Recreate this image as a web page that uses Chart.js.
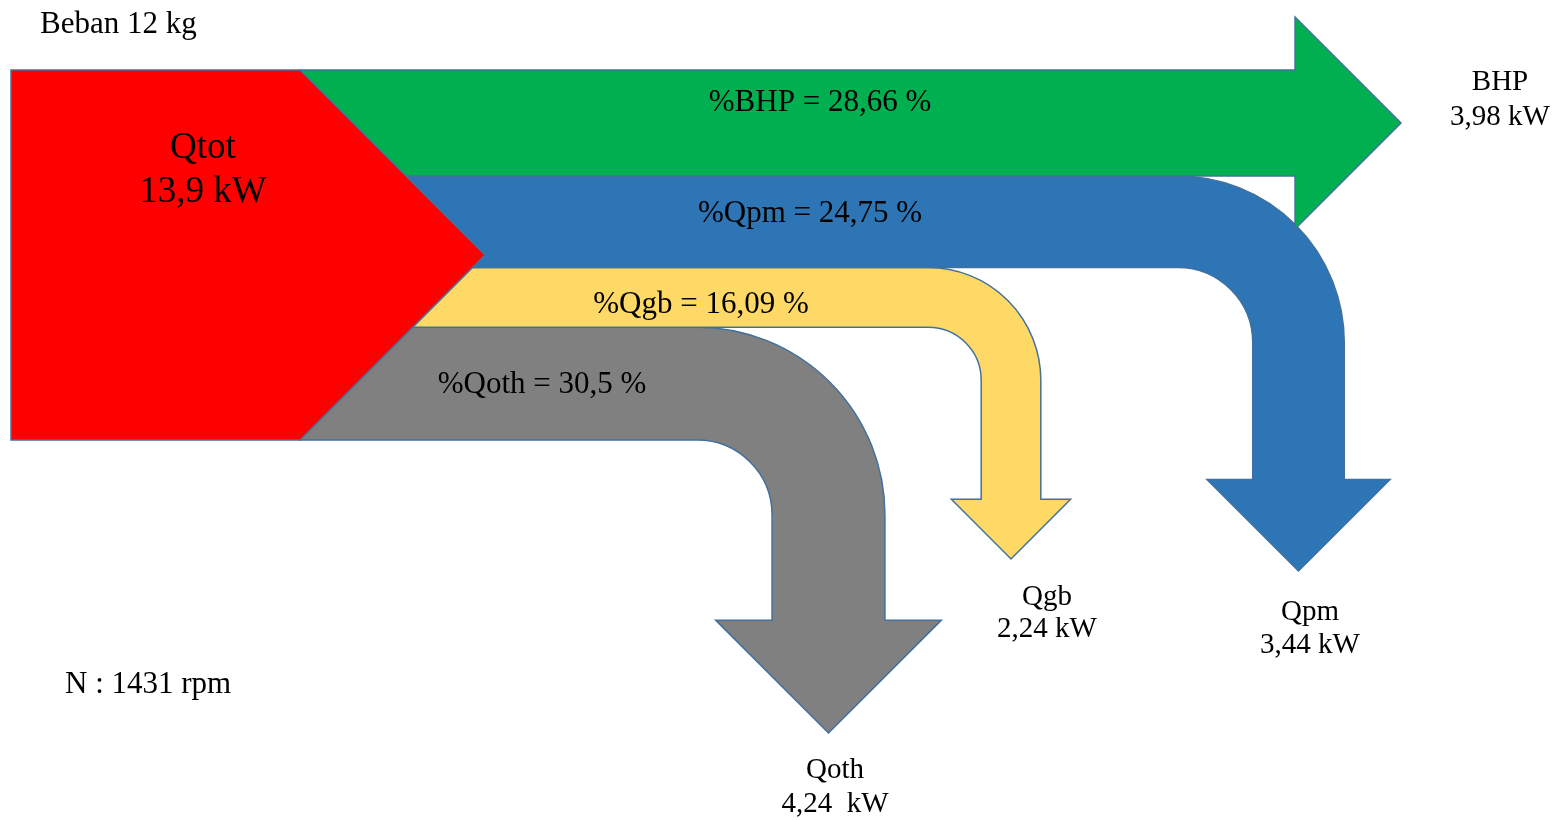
<!DOCTYPE html>
<html>
<head>
<meta charset="utf-8">
<title>Sankey Beban 12 kg</title>
<script src="https://cdn.jsdelivr.net/npm/chart.js@4.4.1/dist/chart.umd.min.js"></script>
<style>
  html, body { margin: 0; padding: 0; background: #ffffff; }
  #wrap { position: relative; width: 1557px; height: 820px; }
</style>
</head>
<body>
<div id="wrap"><canvas id="c"></canvas></div>
<script>
// ---------------- DATA ----------------
const sourceName = 'Qtot';
const totalKW = 13.9;
const categories = ['BHP', 'Qpm', 'Qgb', 'Qoth'];
const flowKW = [3.98, 3.44, 2.24, 4.24];
const flowPct = [28.66, 24.75, 16.09, 30.5];
const loadLabel = 'Beban 12 kg';
const speedLabel = 'N : 1431 rpm';

// ---------------- LAYOUT (positions / sizes, in axis units) ----------------
const blockBox = { left: 11, neck: 300, top: 70, bottom: 440 };
const bhpTipX = 1401;
const downCenterX = { Qpm: 1298.5, Qgb: 1011, Qoth: 828.5 };
const downInnerR = { Qpm: 75, Qgb: 53, Qoth: 75 };
const downTipY = { Qpm: 571, Qgb: 559, Qoth: 733 };
const bandLabelPos = { BHP: [820, 111], Qpm: [810, 222], Qgb: [701, 313], Qoth: [542, 393] };
const endLabelPos = { BHP: [1500, 90, 125], Qpm: [1310, 620, 653], Qgb: [1047, 605, 637], Qoth: [835, 778, 812] };
const endUnitGap = { BHP: ' ', Qpm: ' ', Qgb: ' ', Qoth: '  ' };
const sourceLabelPos = [203, 158, 202];
const loadLabelPos = [40, 33];
const speedLabelPos = [65, 693];

// ---------------- STYLE ----------------
const flowColors = { BHP: '#00B050', Qpm: '#2E75B6', Qgb: '#FFD966', Qoth: '#808080' };
const sourceColor = '#FF0000';
const outlineColor = '#41719C';
const fontFamily = '"Liberation Serif", "Times New Roman", serif';

const fmt = v => String(v).replace('.', ',');

const flowPlugin = {
  id: 'flowPlugin',
  afterDatasetsDraw(chart) {
    const ctx = chart.ctx;
    const sx = chart.scales.x, sy = chart.scales.y;
    const X = v => sx.getPixelForValue(v);
    const Y = v => sy.getPixelForValue(v);
    const LX = d => Math.abs(sx.getPixelForValue(d) - sx.getPixelForValue(0));
    const LY = d => Math.abs(sy.getPixelForValue(d) - sy.getPixelForValue(0));

    // band thickness in axis units, proportional to each flow's share of the total
    const span = blockBox.bottom - blockBox.top;
    const bands = {};
    let acc = blockBox.top;
    categories.forEach((c, i) => {
      const w = flowKW[i] / totalKW * span;
      bands[c] = { y0: acc, y1: acc + w, w: w, i: i };
      acc += w;
    });

    ctx.save();
    ctx.lineWidth = 1.5;
    ctx.lineJoin = 'miter';
    ctx.strokeStyle = outlineColor;

    const finish = (color) => {
      ctx.closePath();
      ctx.fillStyle = color;
      ctx.fill();
      ctx.stroke();
    };

    // downward bent flows
    ['Qoth', 'Qgb', 'Qpm'].forEach(c => {
      const b = bands[c];
      const w = b.w, r = downInnerR[c], cx = downCenterX[c];
      const L = cx - w / 2, R = cx + w / 2;
      const ccx = L - r, ccy = b.y1 + r;
      const headTop = downTipY[c] - w;
      ctx.beginPath();
      ctx.moveTo(X(blockBox.neck), Y(b.y0));
      ctx.lineTo(X(ccx), Y(b.y0));
      ctx.arc(X(ccx), Y(ccy), LX(r + w), -Math.PI / 2, 0, false);
      ctx.lineTo(X(R), Y(headTop));
      ctx.lineTo(X(cx + w), Y(headTop));
      ctx.lineTo(X(cx), Y(downTipY[c]));
      ctx.lineTo(X(cx - w), Y(headTop));
      ctx.lineTo(X(L), Y(headTop));
      ctx.lineTo(X(L), Y(ccy));
      ctx.arc(X(ccx), Y(ccy), LX(r), 0, -Math.PI / 2, true);
      ctx.lineTo(X(blockBox.neck), Y(b.y1));
      finish(flowColors[c]);
    });

    // straight BHP arrow
    {
      const b = bands.BHP, w = b.w;
      const mid = (b.y0 + b.y1) / 2;
      const base = bhpTipX - w;
      ctx.beginPath();
      ctx.moveTo(X(blockBox.neck), Y(b.y0));
      ctx.lineTo(X(base), Y(b.y0));
      ctx.lineTo(X(base), Y(mid - w));
      ctx.lineTo(X(bhpTipX), Y(mid));
      ctx.lineTo(X(base), Y(mid + w));
      ctx.lineTo(X(base), Y(b.y1));
      ctx.lineTo(X(blockBox.neck), Y(b.y1));
      finish(flowColors.BHP);
    }

    // source block (Qtot)
    {
      const half = span / 2;
      const mid = blockBox.top + half;
      ctx.beginPath();
      ctx.moveTo(X(blockBox.left), Y(blockBox.top));
      ctx.lineTo(X(blockBox.neck), Y(blockBox.top));
      ctx.lineTo(X(blockBox.neck + half), Y(mid));
      ctx.lineTo(X(blockBox.neck), Y(blockBox.bottom));
      ctx.lineTo(X(blockBox.left), Y(blockBox.bottom));
      finish(sourceColor);
    }

    // texts
    ctx.fillStyle = '#000000';
    ctx.textBaseline = 'alphabetic';
    ctx.textAlign = 'center';

    ctx.font = '37px ' + fontFamily;
    ctx.fillText(sourceName, X(sourceLabelPos[0]), Y(sourceLabelPos[1]));
    ctx.fillText(fmt(totalKW) + ' kW', X(sourceLabelPos[0]), Y(sourceLabelPos[2]));

    ctx.font = '31px ' + fontFamily;
    categories.forEach((c, i) => {
      const p = bandLabelPos[c];
      ctx.fillText('%' + c + ' = ' + fmt(flowPct[i]) + ' %', X(p[0]), Y(p[1]));
    });

    ctx.font = '29px ' + fontFamily;
    categories.forEach((c, i) => {
      const p = endLabelPos[c];
      ctx.fillText(c, X(p[0]), Y(p[1]));
      ctx.fillText(fmt(flowKW[i]) + endUnitGap[c] + 'kW', X(p[0]), Y(p[2]));
    });

    ctx.textAlign = 'left';
    ctx.font = '31px ' + fontFamily;
    ctx.fillText(loadLabel, X(loadLabelPos[0]), Y(loadLabelPos[1]));
    ctx.fillText(speedLabel, X(speedLabelPos[0]), Y(speedLabelPos[1]));

    ctx.restore();
  }
};

new Chart(document.getElementById('c'), {
  type: 'scatter',
  data: { datasets: [] },
  options: {
    responsive: true,
    maintainAspectRatio: false,
    animation: false,
    layout: { padding: 0 },
    plugins: { legend: { display: false }, tooltip: { enabled: false }, title: { display: false } },
    scales: {
      x: { type: 'linear', min: 0, max: 1557, display: false },
      y: { type: 'linear', min: 0, max: 820, reverse: true, display: false }
    }
  },
  plugins: [flowPlugin]
});
</script>
</body>
</html>
